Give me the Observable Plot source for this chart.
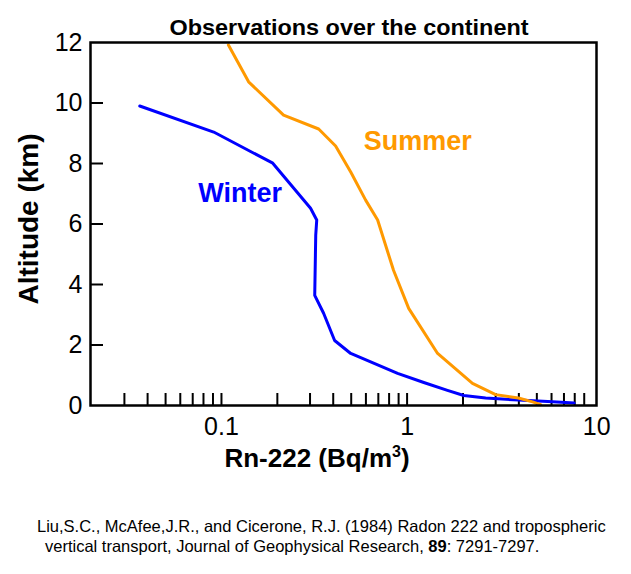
<!DOCTYPE html>
<html>
<head>
<meta charset="utf-8">
<script src="https://cdn.jsdelivr.net/npm/d3@7"></script>
<script src="https://cdn.jsdelivr.net/npm/@observablehq/plot@0.6"></script>
<style>
  html, body { margin: 0; padding: 0; background: #fff; }
</style>
</head>
<body>
<script>
// ---- data ----
const seasons = ["Winter", "Summer"];
const seasonColors = ["#0000ff", "#ff9900"];

const winterRn  = [0.0363, 0.0908, 0.189, 0.302, 0.326, 0.322, 0.318, 0.355, 0.407, 0.497, 0.889, 1.23, 1.65, 2.02, 2.65, 3.98, 6.08, 7.94];
const winterAlt = [9.90, 9.04, 8.01, 6.52, 6.13, 5.63, 3.64, 3.05, 2.15, 1.72, 1.06, 0.76, 0.50, 0.33, 0.25, 0.18, 0.12, 0.08];

const summerRn  = [0.109, 0.140, 0.216, 0.334, 0.412, 0.497, 0.598, 0.694, 0.845, 1.02, 1.46, 2.25, 3.00, 3.98, 4.74, 5.24];
const summerAlt = [11.92, 10.70, 9.60, 9.14, 8.58, 7.72, 6.79, 6.13, 4.47, 3.21, 1.72, 0.73, 0.36, 0.25, 0.12, 0.03];

const labelRn  = [0.126, 1.14];
const labelAlt = [7.02, 8.74];

const yTickValues = [0, 2, 4, 6, 8, 10, 12];
const yInnerTicks = [2, 4, 6, 8, 10];
const xTickLabels = [0.1, 1];
const xLastLabel = [10];
const xMinorTicks = [0.03, 0.04, 0.05, 0.06, 0.07, 0.08, 0.09,
                     0.1, 0.2, 0.3, 0.4, 0.5, 0.6, 0.7, 0.8, 0.9,
                     1, 2, 3, 4, 5, 6, 7, 8, 9];

const titleText = "Observations over the continent";
const yTitle = "Altitude (km)";
const captionLine1 = "Liu,S.C., McAfee,J.R., and Cicerone, R.J. (1984) Radon 222 and tropospheric";
const captionLine2a = "vertical transport, Journal of Geophysical Research, ";
const captionLine2b = "89";
const captionLine2c = ": 7291-7297.";

// ---- build tables ----
const rows = [
  ...winterRn.map((v, i) => ({rn: v, alt: winterAlt[i], season: seasons[0]})),
  ...summerRn.map((v, i) => ({rn: v, alt: summerAlt[i], season: seasons[1]}))
];
const labels = seasons.map((s, i) => ({season: s, rn: labelRn[i], alt: labelAlt[i]}));

const font = "'Liberation Sans', Arial, Helvetica, sans-serif";

const svg = Plot.plot({
  width: 631,
  height: 574,
  marginLeft: 90,
  marginRight: 35,
  marginTop: 42,
  marginBottom: 169,
  style: {fontFamily: font, background: "#fff", color: "#000", overflow: "visible"},
  x: {type: "log", domain: [0.0197, 10.48]},
  y: {domain: [0, 12]},
  color: {domain: seasons, range: seasonColors},
  marks: [
    Plot.axisY(yTickValues, {tickSize: 0, tickPadding: 8, fontSize: 25, label: null, tickFormat: d => String(d)}),
    Plot.axisY(yInnerTicks, {tickSize: -13, strokeWidth: 2, label: null, tickFormat: () => ""}),
    Plot.axisX(xMinorTicks, {tickSize: -12, strokeWidth: 2, label: null, tickFormat: () => ""}),
    Plot.axisX(xTickLabels, {tickSize: 0, tickPadding: 12, fontSize: 25, label: null, tickFormat: d => String(d)}),
    Plot.axisX(xLastLabel, {tickSize: 0, tickPadding: 12, fontSize: 25, dx: 4, label: null, tickFormat: d => String(d)}),
    Plot.line(rows, {x: "rn", y: "alt", z: "season", stroke: "season", strokeWidth: 3, curve: "linear"}),
    Plot.text(labels, {x: "rn", y: "alt", text: "season", fill: "season", fontSize: 27, fontWeight: "bold"}),
    Plot.frame({stroke: "#000", strokeWidth: 2.5})
  ]
});

const s = d3.select(svg);

// chart title
s.append("text")
  .attr("x", 349).attr("y", 35)
  .attr("text-anchor", "middle")
  .attr("font-size", 22).attr("font-weight", "bold")
  .attr("textLength", 359).attr("lengthAdjust", "spacingAndGlyphs")
  .attr("fill", "#000")
  .text(titleText);

// y-axis title
s.append("text")
  .attr("transform", "translate(38,219) rotate(-90)")
  .attr("text-anchor", "middle")
  .attr("font-size", 28).attr("font-weight", "bold")
  .attr("fill", "#000")
  .text(yTitle);

// x-axis title with superscript
const xt = s.append("text")
  .attr("x", 317).attr("y", 467)
  .attr("text-anchor", "middle")
  .attr("font-size", 26).attr("font-weight", "bold")
  .attr("fill", "#000");
xt.append("tspan").text("Rn-222 (Bq/m");
xt.append("tspan").attr("font-size", 16).attr("dy", -10).text("3");
xt.append("tspan").attr("dy", 10).text(")");

// caption
s.append("text")
  .attr("x", 37).attr("y", 532)
  .attr("text-anchor", "start")
  .attr("font-size", 16.5).attr("fill", "#000")
  .text(captionLine1);
const c2 = s.append("text")
  .attr("x", 45).attr("y", 552)
  .attr("text-anchor", "start")
  .attr("font-size", 16.5).attr("fill", "#000");
c2.append("tspan").text(captionLine2a);
c2.append("tspan").attr("font-weight", "bold").text(captionLine2b);
c2.append("tspan").text(captionLine2c);

document.body.appendChild(svg);
</script>
</body>
</html>
